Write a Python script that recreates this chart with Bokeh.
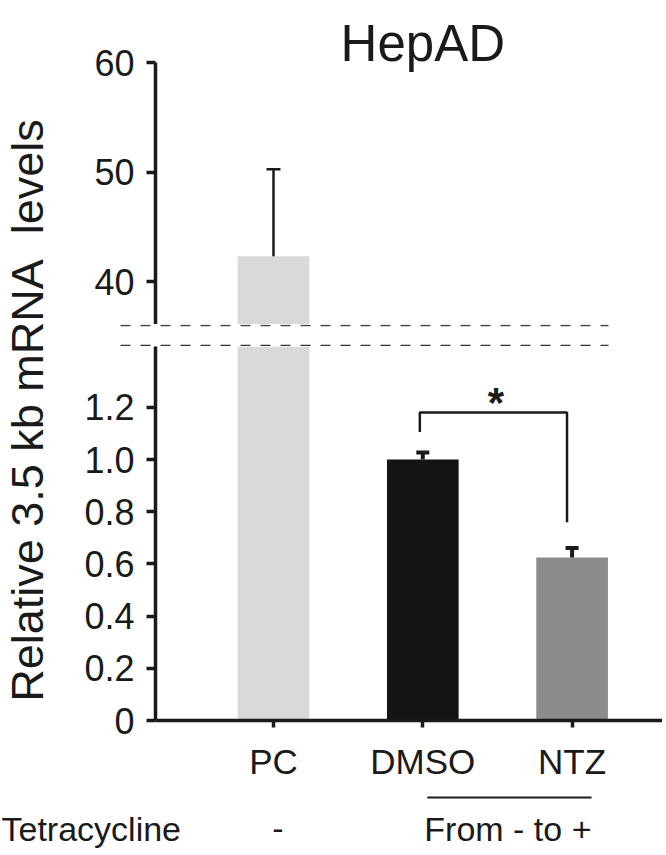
from bokeh.plotting import figure
from bokeh.layouts import row, column
from bokeh.models import Range1d, FixedTicker, NumeralTickFormatter, ColumnDataSource
from bokeh.core.properties import value
from bokeh.embed import file_html
from bokeh.resources import INLINE

# ---------------- data ----------------
categories = ["PC", "DMSO", "NTZ"]
means = [42.3, 1.0, 0.625]
errors = [7.95, 0.027, 0.036]
bar_colors = ["#d9d9d9", "#141414", "#8c8c8c"]
top_ticks = [40, 50, 60]
bottom_ticks = [0, 0.2, 0.4, 0.6, 0.8, 1.0, 1.2]
top_axis_bounds = (36.07, 60)
bottom_range = (0, 1.433)
sig_x = [1.98, 1.98, 2.966, 2.966]
sig_y = [1.105, 1.18, 1.18, 0.76]
sig_text = "*"
sig_pos = (2.49, 1.218)
row_title = "Tetracycline"
footer_labels = ["-", "From - to +"]
footer_x = [1.03, 2.57]
group_line_x = [2.03, 3.13]
title_text = "HepAD"
title_pos = (2.0, 61.74)
ylabel_text = "Relative 3.5 kb mRNA\u00a0 levels"

FONT = "Liberation Sans"
TXT = "#1a1a1a"

# ---------------- geometry (pixels) ----------------
PPU = 149.3            # pixels per category step
CAT1_PX = 273          # pixel position of first category
AXIS_PX = 155          # y axis position
RIGHT_PX = 662
LAB_W = 78


def px_to_x(px):
    return 1 + (px - CAT1_PX) / PPU


xs = list(range(1, len(categories) + 1))
uppers = [m + e for m, e in zip(means, errors)]
src = ColumnDataSource(dict(x=xs, top=means, upper=uppers, color=bar_colors,
                            lw=[2.5, 4, 4], cap=[14, 13, 13]))

xr = Range1d(px_to_x(AXIS_PX), px_to_x(RIGHT_PX))


def style_common(p):
    p.outline_line_color = None
    p.grid.visible = False
    p.toolbar.logo = None


def style_axis(ax):
    ax.axis_line_width = 3.5
    ax.axis_line_color = TXT
    ax.major_tick_line_width = 3.5
    ax.major_tick_line_color = TXT
    ax.major_tick_in = 0
    ax.minor_tick_in = 0
    ax.minor_tick_out = 0
    ax.major_label_text_font = FONT
    ax.major_label_text_font_size = "36px"
    ax.major_label_text_color = TXT


def draw_bars(p):
    p.vbar(x="x", top="top", bottom=0, width=0.48, fill_color="color", line_color=None, source=src)
    p.segment(x0="x", y0="top", x1="x", y1="upper", line_width="lw", line_color=TXT, source=src)
    p.scatter(x="x", y="upper", marker="dash", size="cap", line_width="lw", line_color=TXT, source=src)


TOP_H, GAP_H, BOT_H, FOOT_H = 324, 22, 444, 63
MAIN_H = TOP_H + GAP_H + BOT_H

# ---------------- y label figure ----------------
lab = figure(width=LAB_W, height=MAIN_H, x_axis_location=None, y_axis_location=None,
             toolbar_location=None, output_backend="svg",
             min_border_top=30, min_border_bottom=0, min_border_left=0, min_border_right=0,
             title=ylabel_text, title_location="left")
lab.title.text_font = FONT
lab.title.text_font_size = "45px"
lab.title.text_font_style = "normal"
lab.title.text_color = TXT
lab.title.align = "center"
lab.title.vertical_align = "top"
lab.title.standoff = 2
style_common(lab)

# ---------------- top panel ----------------
top_px_per_unit = 10.95
top_y1 = 60 + 62 / top_px_per_unit
top_y0 = 60 - (TOP_H - 62) / top_px_per_unit
top = figure(width=RIGHT_PX - LAB_W, height=TOP_H, x_range=xr, y_range=Range1d(top_y0, top_y1),
             x_axis_location=None, toolbar_location=None, output_backend="svg",
             min_border_top=0, min_border_bottom=0, min_border_left=AXIS_PX - LAB_W, min_border_right=0)
style_common(top)
top.yaxis.ticker = FixedTicker(ticks=top_ticks)
top.yaxis.bounds = top_axis_bounds
style_axis(top.yaxis[0])
top.yaxis.major_tick_out = 9
top.yaxis.major_label_standoff = 12
draw_bars(top)
top.text(x=[title_pos[0]], y=[title_pos[1]], text=[title_text], text_font=value(FONT), text_font_size="51px",
         text_align="center", text_baseline="alphabetic", text_color=TXT)

# ---------------- break (gap) strip ----------------
gap = figure(width=RIGHT_PX - LAB_W, height=GAP_H, x_range=Range1d(px_to_x(LAB_W), px_to_x(RIGHT_PX)),
             y_range=Range1d(GAP_H, 0), x_axis_location=None, y_axis_location=None,
             toolbar_location=None, output_backend="svg",
             min_border_top=0, min_border_bottom=0, min_border_left=0, min_border_right=0)
style_common(gap)
brk_x = [px_to_x(120), px_to_x(608)]
gap.line(brk_x, [1, 1], line_dash="10 10", line_color="#444444", line_width=1.5)
gap.line(brk_x, [GAP_H - 1, GAP_H - 1], line_dash="10 10", line_color="#333333", line_width=1.5)

# ---------------- bottom panel ----------------
bot = figure(width=RIGHT_PX - LAB_W, height=BOT_H, x_range=xr, y_range=Range1d(*bottom_range),
             toolbar_location=None, output_backend="svg",
             min_border_top=0, min_border_bottom=70, min_border_left=AXIS_PX - LAB_W, min_border_right=0)
style_common(bot)
bot.yaxis.ticker = FixedTicker(ticks=bottom_ticks)
bot.yaxis.formatter = NumeralTickFormatter(format="0.0")
bot.yaxis.major_label_overrides = {0: "0"}
style_axis(bot.yaxis[0])
bot.yaxis.major_tick_out = 9
bot.yaxis.major_label_standoff = 12
bot.xaxis.ticker = FixedTicker(ticks=xs)
bot.xaxis.major_label_overrides = {x: c for x, c in zip(xs, categories)}
style_axis(bot.xaxis[0])
bot.xaxis.major_tick_out = 7
bot.xaxis.major_label_standoff = 14
bot.xaxis.major_label_text_font_size = "35px"
draw_bars(bot)
bot.line(sig_x, sig_y, line_width=2.5, line_color=TXT)
bot.text(x=[sig_pos[0]], y=[sig_pos[1]], text=[sig_text], text_font=value(FONT), text_font_size="42px",
         text_font_style="bold", text_align="center", text_baseline="middle", text_color=TXT)

# ---------------- footer ----------------
foot = figure(width=RIGHT_PX, height=FOOT_H, x_range=Range1d(px_to_x(0), px_to_x(RIGHT_PX)),
              y_range=Range1d(FOOT_H, 0), x_axis_location=None, y_axis_location=None,
              toolbar_location=None, output_backend="svg",
              min_border_top=0, min_border_bottom=0, min_border_left=0, min_border_right=0)
style_common(foot)
foot.text(x=[px_to_x(1)], y=[38], text=[row_title], text_font=value(FONT), text_font_size="34px",
          text_align="left", text_baseline="middle", text_color=TXT)
foot.text(x=footer_x, y=[38] * len(footer_x), text=footer_labels, text_font=value(FONT), text_font_size="34px",
          text_align="center", text_baseline="middle", text_color=TXT)
foot.line(group_line_x, [7, 7], line_width=2, line_color=TXT)

layout = column(row(lab, column(top, row(gap), bot)), foot)
open("out.html", "w").write(file_html(layout, INLINE))
